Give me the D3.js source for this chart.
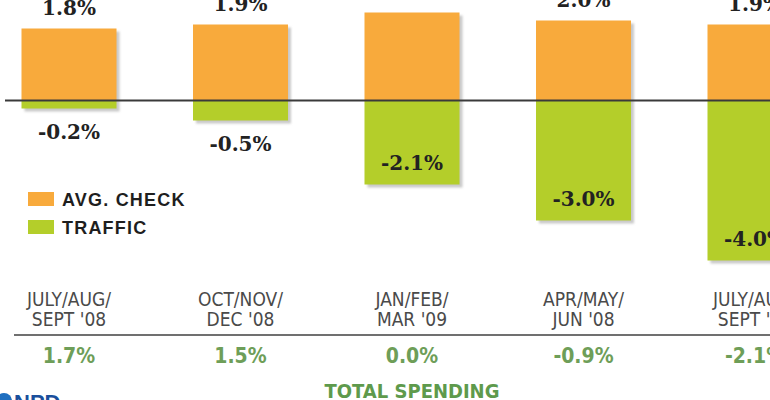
<!DOCTYPE html>
<html>
<head>
<meta charset="utf-8">
<script src="https://cdn.jsdelivr.net/npm/d3@7"></script>
<style>
  html, body { margin: 0; padding: 0; background: #ffffff; }
  svg { display: block; }
</style>
</head>
<body>
<svg id="chart" width="770" height="400"></svg>
<script>
// ---- data ----
const categories = ["JULY/AUG/ SEPT '08", "OCT/NOV/ DEC '08", "JAN/FEB/ MAR '09", "APR/MAY/ JUN '08", "JULY/AUG/ SEPT '09"];
const categoryLines = [["JULY/AUG/", "SEPT '08"], ["OCT/NOV/", "DEC '08"], ["JAN/FEB/", "MAR '09"], ["APR/MAY/", "JUN '08"], ["JULY/AUG/", "SEPT '09"]];
const avgCheck = [1.8, 1.9, 2.2, 2.0, 1.9];
const traffic = [-0.2, -0.5, -2.1, -3.0, -4.0];
const totalSpending = [1.7, 1.5, 0.0, -0.9, -2.1];
const seriesNames = ["AVG. CHECK", "TRAFFIC"];
const footerTitle = "TOTAL SPENDING";

// ---- styles ----
const orange = "#F8AA3C";
const green = "#B4CE2A";
const fmt = v => v.toFixed(1) + "%";

const svg = d3.select("#chart");

const defs = svg.append("defs");
defs.append("filter").attr("id", "blur").append("feGaussianBlur").attr("stdDeviation", 1);

const step = 171.5;
const x0 = 69 - step / 2;
const x = d3.scaleBand()
  .domain(categories)
  .range([x0, x0 + step * categories.length])
  .paddingInner(0.446)
  .paddingOuter(0.223);

const y = d3.scaleLinear().domain([-4, 2.2]).range([260.5, 12.5]);

const rows = categories.map((c, i) => ({ cat: c, lines: categoryLines[i], pos: avgCheck[i], neg: traffic[i], total: totalSpending[i] }));

// shadows
svg.append("g").selectAll("rect").data(rows).join("rect")
  .attr("x", d => x(d.cat) + 3)
  .attr("y", d => y(d.pos) + 3)
  .attr("width", x.bandwidth())
  .attr("height", d => y(d.neg) - y(d.pos))
  .attr("fill", "#c9c9c9")
  .attr("filter", "url(#blur)");

// positive bars
svg.append("g").selectAll("rect").data(rows).join("rect")
  .attr("x", d => x(d.cat))
  .attr("y", d => y(d.pos))
  .attr("width", x.bandwidth())
  .attr("height", d => y(0) - y(d.pos))
  .attr("fill", orange);

// negative bars
svg.append("g").selectAll("rect").data(rows).join("rect")
  .attr("x", d => x(d.cat))
  .attr("y", y(0))
  .attr("width", x.bandwidth())
  .attr("height", d => y(d.neg) - y(0))
  .attr("fill", green);

// zero line
svg.append("line")
  .attr("x1", 5).attr("x2", 770)
  .attr("y1", y(0)).attr("y2", y(0))
  .attr("stroke", "#3a3a3a").attr("stroke-width", 2);

// value labels
const valFont = "'DejaVu Serif', serif";
svg.append("g").selectAll("text").data(rows).join("text")
  .attr("x", d => x(d.cat) + x.bandwidth() / 2)
  .attr("y", d => y(d.pos) - 14)
  .attr("text-anchor", "middle")
  .attr("font-family", valFont).attr("font-weight", "bold").attr("font-size", 20)
  .attr("fill", "#222")
  .text(d => fmt(d.pos));

svg.append("g").selectAll("text").data(rows).join("text")
  .attr("x", d => x(d.cat) + x.bandwidth() / 2)
  .attr("y", d => Math.abs(d.neg) < 1 ? y(d.neg) + 30 : y(d.neg) - 15)
  .attr("text-anchor", "middle")
  .attr("font-family", valFont).attr("font-weight", "bold").attr("font-size", 20)
  .attr("fill", "#222")
  .text(d => fmt(d.neg));

// legend
const legend = svg.append("g");
[orange, green].forEach((col, i) => {
  legend.append("rect").attr("x", 28).attr("y", 192 + i * 28).attr("width", 26).attr("height", 14).attr("fill", col);
  legend.append("text")
    .attr("x", 62).attr("y", 206 + i * 28)
    .attr("font-family", "'Liberation Sans', Arial, sans-serif").attr("font-weight", "bold")
    .attr("font-size", 18).attr("letter-spacing", 1.2)
    .attr("fill", "#1e1e1e")
    .text(seriesNames[i]);
});

// category labels
const narrow = "'Liberation Sans Narrow', 'DejaVu Sans Condensed', 'Arial Narrow', sans-serif";
const catG = svg.append("g").selectAll("text").data(rows).join("text")
  .attr("text-anchor", "middle")
  .attr("font-family", narrow).attr("font-size", 19)
  .attr("fill", "#4a4a4a");
catG.selectAll("tspan").data(d => d.lines.map(l => ({ l, cx: x(d.cat) + x.bandwidth() / 2 }))).join("tspan")
  .attr("x", t => t.cx)
  .attr("y", (t, j) => 306 + j * 20)
  .text(t => t.l);

// divider
svg.append("line")
  .attr("x1", 14).attr("x2", 770)
  .attr("y1", 335).attr("y2", 335)
  .attr("stroke", "#707070").attr("stroke-width", 2);

// total spending
svg.append("g").selectAll("text").data(rows).join("text")
  .attr("x", d => x(d.cat) + x.bandwidth() / 2)
  .attr("y", 363)
  .attr("text-anchor", "middle")
  .attr("font-family", narrow).attr("font-weight", "bold").attr("font-size", 21)
  .attr("fill", "#6E9E58")
  .text(d => fmt(d.total));

svg.append("text")
  .attr("x", x(categories[2]) + x.bandwidth() / 2)
  .attr("y", 398)
  .attr("text-anchor", "middle")
  .attr("font-family", narrow).attr("font-weight", "bold").attr("font-size", 20)
  .attr("fill", "#5E9A4C")
  .text(footerTitle);

// NPD logo (partially cropped)
svg.append("circle").attr("cx", 4).attr("cy", 401).attr("r", 8).attr("fill", "#1f6fc0");
svg.append("text")
  .attr("x", 14).attr("y", 410)
  .attr("font-family", "'Liberation Sans', Arial, sans-serif").attr("font-weight", "bold").attr("font-size", 22)
  .attr("fill", "#1a4f9c")
  .text("NPD");
</script>
</body>
</html>
